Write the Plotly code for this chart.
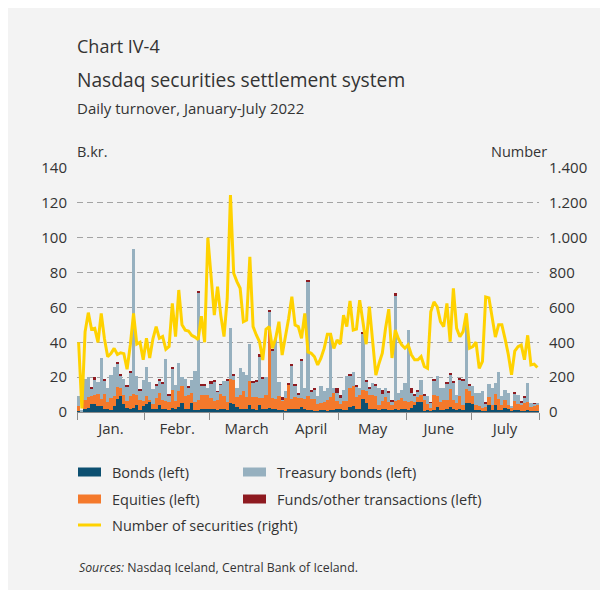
import plotly.graph_objects as go

# Trading days, January-July 2022 (one bar per settlement day)
months = ["Jan.", "Febr.", "March", "April", "May", "June", "July"]
days_per_month = [21, 20, 23, 17, 21, 20, 21]

# Daily turnover, B.kr. (left axis)
bonds = [
    0.5, 0.2, 2.0, 2.3, 4.5, 4.5, 3.5, 3.5, 2.0, 1.7, 1.3, 3.2, 7.6, 9.0, 4.6, 2.3, 1.9, 2.3, 4.2, 1.3, 3.2,
    4.6, 5.5, 1.5, 2.0, 4.0, 2.0, 1.5, 1.0, 2.5, 1.5, 3.0, 5.0, 2.0, 2.0, 5.0, 1.0, 1.0, 2.0, 1.5, 2.0,
    2.0, 1.5, 1.0, 1.5, 2.0, 1.0, 5.0, 4.6, 2.8, 2.0, 2.0, 1.5, 4.2, 1.5, 1.0, 3.8, 2.0, 1.5, 2.3, 2.0, 1.5, 1.0, 1.0,
    0.8, 1.5, 1.5, 1.5, 2.0, 3.0, 1.5, 1.0, 1.3, 0.5, 0.5, 1.0, 1.0, 0.8, 1.0, 1.0, 2.0,
    1.5, 1.0, 1.0, 3.0, 3.2, 1.5, 1.5, 7.6, 5.0, 2.0, 1.5, 1.5, 1.0, 1.5, 1.5, 1.0, 1.0, 1.5, 1.0, 1.5, 1.5,
    1.0, 2.5, 4.0, 5.5, 5.5, 0.8, 1.0, 0.5, 1.0, 3.0, 1.0, 1.0, 2.0, 3.0, 2.0, 1.0, 2.0, 1.0, 5.0, 5.0,
    4.5, 1.3, 1.3, 0.8, 0.5, 4.2, 1.0, 4.2, 1.3, 1.0, 2.3, 1.9, 0.3, 1.3, 1.0, 0.5, 0.5, 1.0, 0.5, 0.5, 0.5,
]
equities = [
    3.0, 0.3, 5.0, 6.5, 4.5, 5.5, 7.0, 4.0, 8.3, 3.8, 7.0, 6.0, 7.0, 4.7, 5.4, 4.2, 7.0, 8.2, 5.8, 5.7, 3.3,
    4.4, 1.5, 3.0, 6.0, 7.0, 5.0, 5.0, 5.0, 10.0, 5.0, 9.0, 10.0, 7.0, 8.0, 6.0, 5.0, 6.0, 8.0, 8.0, 8.0,
    6.0, 5.0, 6.0, 9.0, 7.0, 5.0, 14.0, 14.0, 6.0, 8.0, 10.0, 7.0, 13.7, 7.0, 7.5, 4.0, 6.0, 8.5, 45.3, 6.0, 6.0, 8.0, 5.5,
    7.0, 14.0, 6.0, 7.0, 6.0, 5.0, 6.0, 8.0, 6.0, 7.0, 4.0, 4.0, 5.0, 6.0, 7.5, 10.0, 4.5,
    3.0, 5.5, 5.5, 11.0, 11.5, 7.0, 8.5, 5.0, 7.0, 8.0, 8.0, 7.5, 3.0, 5.0, 7.0, 5.0, 3.0, 5.0, 6.0, 6.5, 5.0,
    5.0, 4.0, 2.0, 3.0, 4.0, 6.0, 3.5, 2.0, 9.0, 6.0, 5.0, 6.0, 5.0, 10.0, 5.0, 4.0, 7.0, 3.0, 8.0, 7.0,
    4.5, 2.8, 2.0, 1.6, 2.5, 4.2, 3.0, 6.2, 6.4, 3.3, 4.5, 2.0, 2.3, 5.0, 3.5, 4.0, 4.5, 5.0, 2.3, 3.5, 3.3,
]
treasury = [
    5.5, 0.5, 12.0, 11.4, 4.5, 8.5, 6.5, 23.5, 7.5, 8.2, 13.0, 16.8, 13.0, 7.3, 9.0, 8.4, 14.0, 82.8, 10.4, 5.6, 12.0,
    17.0, 10.5, 8.5, 7.0, 7.0, 9.5, 24.0, 3.5, 12.5, 9.0, 16.0, 5.0, 10.0, 4.0, 7.5, 17.6, 61.3, 5.0, 5.5, 4.0,
    8.0, 11.0, 4.5, 5.0, 9.0, 12.0, 29.0, 2.1, 4.9, 15.0, 11.0, 12.5, 21.0, 8.5, 9.0, 24.0, 11.5, 10.0, 10.0, 27.0, 35.2, 8.5, 0.5,
    4.2, 0.5, 19.4, 6.5, 2.3, 21.4, 6.5, 66.0, 4.5, 5.5, 4.5, 10.2, 5.8, 7.2, 36.8, 3.0, 4.5,
    4.0, 6.3, 13.9, 6.7, 8.2, 6.1, 3.7, 32.4, 5.3, 3.4, 7.1, 6.0, 9.7, 3.8, 5.5, 5.0, 1.8, 60.5, 3.9, 4.8, 10.1,
    41.0, 4.6, 3.5, 3.0, 9.0, 2.7, 4.5, 2.7, 7.9, 11.4, 7.7, 6.7, 9.4, 8.7, 9.9, 5.0, 9.4, 14.0, 42.0, 3.4,
    5.7, 6.8, 7.6, 9.8, 1.8, 7.6, 9.7, 6.2, 15.5, 4.7, 6.0, 7.0, 0.6, 4.5, 5.4, 0.9, 3.3, 10.6, 2.2, 0.6, 1.3,
]
funds = [
    0, 0, 0, 0, 0.8, 1.5, 0, 0, 0.7, 0, 0, 0, 1.0, 0.7, 0, 0.7, 0.7, 0, 0, 0.7, 0,
    0, 0, 0, 1.0, 0.5, 0.5, 0, 0.5, 0.5, 0, 0, 0, 0, 0.5, 0, 0, 1.0, 0.6, 0.5, 0,
    2.0, 0.5, 0.5, 0.5, 0, 0.5, 0, 1.0, 0, 0, 0, 0, 0, 0.5, 0.5, 1.2, 0.5, 0, 0.9, 0.6, 0, 0, 1.4,
    0, 0.6, 0.5, 0.6, 0.6, 0.6, 0, 0.6, 1.0, 0.7, 0, 0, 0, 0, 0, 0, 2.5,
    1.0, 0, 0, 1.2, 0, 0.6, 0, 1.0, 0.6, 0.6, 0, 0.6, 0, 2.5, 0, 1.0, 0.7, 1.0, 0, 0, 0,
    0, 2.5, 0.5, 0.7, 0, 0.5, 0, 0.5, 0.6, 0, 0, 0, 0.6, 0.6, 0.6, 0, 0.6, 0.6, 0.6, 0.6,
    0, 0, 0, 0, 0.5, 0, 0, 0, 0, 0, 0, 0, 0, 0.6, 0, 0.6, 0.5, 0, 0, 0.5, 0,
]
# Number of securities settled (right axis)
number = [
    400, 20, 460, 570, 475, 480, 400, 566, 420, 317, 335, 365, 330, 340, 335, 245, 385, 566, 390, 400, 300,
    423, 310, 420, 490, 423, 433, 360, 376, 623, 433, 700, 500, 470, 465, 440, 430, 415, 550, 400, 1000,
    786, 556, 719, 556, 433, 650, 1245, 796, 748, 710, 518, 527, 891, 490, 442, 403, 298, 475, 490, 365, 423, 518, 327,
    423, 537, 662, 499, 490, 423, 566, 345, 337, 317, 270, 309, 365, 446, 446, 365, 413,
    389, 556, 490, 637, 470, 476, 642, 518, 389, 604, 384, 212, 280, 337, 480, 590, 310, 470, 420, 385, 366,
    385, 328, 300, 300, 318, 261, 251, 575, 632, 604, 518, 490, 623, 404, 709, 480, 432, 461, 566, 366,
    376, 400, 250, 290, 660, 655, 540, 430, 500, 500, 420, 330, 213, 350, 375, 385, 300, 440, 270, 275, 255,
]

names = ["Bonds (left)", "Equities (left)", "Treasury bonds (left)",
         "Funds/other transactions (left)", "Number of securities (right)"]
colors = ["#0d5071", "#f4792b", "#96b0bf", "#8e1a20", "#ffd200"]

n = sum(days_per_month)
x = list(range(n))

# Month boundaries (tick marks) and month centres (labels)
bounds, centres = [-0.5], []
for d in days_per_month:
    centres.append(bounds[-1] + d / 2)
    bounds.append(bounds[-1] + d)

FONT = "Open Sans"
TXT = "#333333"

fig = go.Figure()
for vals, name, col in zip([bonds, equities, treasury, funds], names[:4], colors[:4]):
    fig.add_trace(go.Bar(x=x, y=vals, name=name, marker=dict(color=col, line=dict(width=0)),
                         showlegend=False, yaxis="y"))
fig.add_trace(go.Scatter(x=x, y=number, name=names[4], mode="lines",
                         line=dict(color=colors[4], width=3), showlegend=False, yaxis="y2"))

# plot area in pixels
L, R, T, B = 77, 539, 168, 412
W, H = R - L, B - T


def px(xp):
    return (xp - L) / W


def py(yp):
    return (B - yp) / H


shapes = [dict(type="rect", xref="paper", yref="paper", layer="below",
               x0=px(8), x1=px(600), y0=py(590), y1=py(8),
               fillcolor="#f3f3f3", line=dict(width=0))]
annotations = []


def text(s, xp, yp, size, anchor="left", color=TXT):
    annotations.append(dict(text=s, xref="paper", yref="paper", x=px(xp), y=py(yp),
                            xanchor=anchor, yanchor="middle", showarrow=False,
                            font=dict(family=FONT, size=size, color=color)))


text("Chart IV-4", 75, 46, 18)
text("Nasdaq securities settlement system", 75, 79, 19.2)
text("Daily turnover, January-July 2022", 75, 108, 15)
text("B.kr.", 75, 151, 14.5)
text("Number", 549, 151, 14.5, anchor="right")

# legend: swatches + labels
legend_pos = [(78, 472), (78, 499), (243, 472), (243, 499), (78, 525)]
for i, (lx, ly) in enumerate(legend_pos):
    if i < 4:
        shapes.append(dict(type="rect", xref="paper", yref="paper",
                           x0=px(lx), x1=px(lx + 23), y0=py(ly + 4.5), y1=py(ly - 4.5),
                           fillcolor=colors[i], line=dict(width=0)))
    else:
        shapes.append(dict(type="line", xref="paper", yref="paper",
                           x0=px(lx), x1=px(lx + 23), y0=py(ly), y1=py(ly),
                           line=dict(color=colors[i], width=3)))
    text(names[i], lx + 32, ly, 14.5)

text("<i>Sources:</i> Nasdaq Iceland, Central Bank of Iceland.", 77, 567, 12.3)

fig.update_layout(
    width=608, height=592,
    margin=dict(l=L, r=608 - R, t=T, b=592 - B),
    paper_bgcolor="white", plot_bgcolor="rgba(0,0,0,0)",
    barmode="stack", bargap=0,
    separators=",.",
    font=dict(family=FONT, size=14, color=TXT),
    shapes=shapes, annotations=annotations,
    xaxis=dict(range=[-0.5, n - 0.5], tickmode="array", tickvals=centres, ticktext=months,
               ticks="outside", ticklen=3, tickcolor="rgba(0,0,0,0)",
               showline=True, linecolor="#8c8c8c", linewidth=1, showgrid=False, zeroline=False,
               tickfont=dict(size=15, color=TXT),
               minor=dict(tickmode="array", tickvals=bounds, ticks="outside", ticklen=7,
                          tickcolor="#8c8c8c", tickwidth=1, showgrid=False)),
    yaxis=dict(range=[0, 140], tickmode="linear", tick0=0, dtick=20,
               showgrid=True, gridcolor="#a3a3a3", gridwidth=1, griddash="6px,4px",
               zeroline=False, showline=False, ticks="outside", ticklen=6,
               tickcolor="rgba(0,0,0,0)", tickfont=dict(size=15, color=TXT)),
    yaxis2=dict(range=[0, 1400], tickmode="linear", tick0=0, dtick=200, overlaying="y",
                side="right", showgrid=False, zeroline=False, showline=False,
                separatethousands=True, ticks="outside", ticklen=6,
                tickcolor="rgba(0,0,0,0)", tickfont=dict(size=15, color=TXT)),
)

fig.write_html("out.html")
